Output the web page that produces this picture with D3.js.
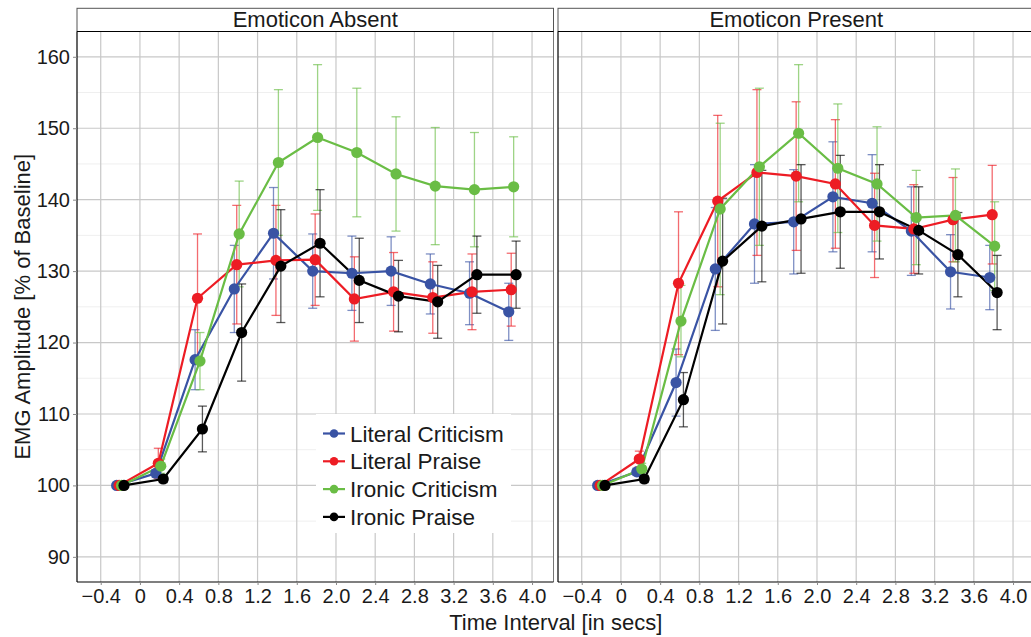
<!DOCTYPE html>
<html>
<head>
<meta charset="utf-8">
<script src="https://cdn.jsdelivr.net/npm/d3@7"></script>
<style>
  body { margin: 0; background: #fff; }
  text { font-family: "Liberation Sans", Arial, sans-serif; fill: #1a1a1a; }
</style>
</head>
<body>
<svg id="chart" width="1031" height="637"></svg>
<script>
// time points (seconds)
const times = [-0.2, 0.2, 0.6, 1.0, 1.4, 1.8, 2.2, 2.6, 3.0, 3.4, 3.8]
const panels = ["Emoticon Absent", "Emoticon Present"]
const seriesNames = ["Literal Criticism", "Literal Praise", "Ironic Criticism", "Ironic Praise"]
const seriesColors = ["#3953a4", "#ed1c24", "#6abd45", "#000000"]

// Emoticon Absent: means and error half-widths
const absentLC = [100, 101.7, 117.6, 127.5, 135.3, 130.0, 129.7, 130.0, 128.2, 126.9, 124.3]
const absentLCerr = [0, 0.5, 4.2, 6.1, 6.4, 5.2, 5.2, 4.8, 4.2, 4.4, 4.0]
const absentLP = [100, 103.1, 126.2, 130.9, 131.5, 131.6, 126.1, 127.1, 126.3, 127.1, 127.4]
const absentLPerr = [0, 2.1, 9.0, 8.3, 7.7, 6.4, 5.9, 5.5, 5.0, 5.3, 5.1]
const absentIC = [100, 102.7, 117.4, 135.2, 145.2, 148.7, 146.6, 143.6, 141.9, 141.4, 141.8]
const absentICerr = [0, 1.0, 4.0, 7.4, 10.2, 10.2, 9.0, 8.0, 8.2, 8.0, 7.0]
const absentIP = [100, 100.9, 107.9, 121.4, 130.7, 133.9, 128.7, 126.5, 125.7, 129.5, 129.5]
const absentIPerr = [0, 0.5, 3.2, 6.8, 7.9, 7.5, 5.9, 5.0, 5.1, 5.4, 4.7]

// Emoticon Present
const presentLC = [100, 101.9, 114.4, 130.3, 136.6, 136.9, 140.4, 139.5, 135.6, 129.9, 129.1]
const presentLCerr = [0, 0.5, 4.7, 8.6, 8.3, 7.3, 7.7, 6.8, 6.2, 5.2, 4.5]
const presentLP = [100, 103.7, 128.3, 139.8, 143.8, 143.3, 142.2, 136.4, 135.9, 137.2, 137.9]
const presentLPerr = [0, 1.1, 10.0, 12.0, 11.6, 10.4, 9.0, 7.3, 6.2, 5.9, 6.9]
const presentIC = [100, 102.3, 123.0, 138.7, 144.6, 149.3, 144.4, 142.2, 137.5, 137.8, 133.5]
const presentICerr = [0, 0.8, 5.0, 12.0, 11.0, 9.6, 9.0, 8.0, 6.6, 6.5, 6.2]
const presentIP = [100, 100.9, 112.0, 131.4, 136.3, 137.3, 138.3, 138.3, 135.7, 132.3, 127.0]
const presentIPerr = [0, 0.5, 3.8, 8.8, 7.8, 7.6, 7.9, 6.6, 6.1, 5.9, 5.2]

const xTicks = [-0.4, 0, 0.4, 0.8, 1.2, 1.6, 2.0, 2.4, 2.8, 3.2, 3.6, 4.0]
const xTickLabels = ["\u22120.4", "0", "0.4", "0.8", "1.2", "1.6", "2.0", "2.4", "2.8", "3.2", "3.6", "4.0"]
const yTicks = [90, 100, 110, 120, 130, 140, 150, 160]
const yMinor = [95, 105, 115, 125, 135, 145, 155]

const panelData = [
  { means: [absentLC, absentLP, absentIC, absentIP], errs: [absentLCerr, absentLPerr, absentICerr, absentIPerr] },
  { means: [presentLC, presentLP, presentIC, presentIP], errs: [presentLCerr, presentLPerr, presentICerr, presentIPerr] }
]

// layout
const G = { TOP: 31.5, BOTTOM: 582, PW: 476.5, X0: [77, 558], STRIP_TOP: 8.3 }
const dodge = [-0.0375, -0.0125, 0.0125, 0.0375]
const CAP = 4.5

const svg = d3.select("#chart")
svg.append("rect").attr("width", 1031).attr("height", 637).attr("fill", "#fff")

const x = d3.scaleLinear().domain([-0.642, 4.219]).range([0, G.PW])
const y = d3.scaleLinear().domain([86.48, 163.54]).range([G.BOTTOM, G.TOP])

panels.forEach((title, pi) => {
  const g = svg.append("g").attr("transform", `translate(${G.X0[pi]},0)`)

  // grid
  g.selectAll(".ymin").data(yMinor).join("line")
    .attr("x1", 0).attr("x2", G.PW).attr("y1", d => y(d)).attr("y2", d => y(d))
    .attr("stroke", "#efefef").attr("stroke-width", 1)
  g.selectAll(".ymaj").data(yTicks).join("line")
    .attr("x1", 0).attr("x2", G.PW).attr("y1", d => y(d)).attr("y2", d => y(d))
    .attr("stroke", "#c8c8c8").attr("stroke-width", 1.2)
  g.selectAll(".xmaj").data(xTicks).join("line")
    .attr("x1", d => x(d)).attr("x2", d => x(d)).attr("y1", G.TOP).attr("y2", G.BOTTOM)
    .attr("stroke", "#c8c8c8").attr("stroke-width", 1.2)

  // legend (left panel only, sits over the grid)
  if (pi === 0) {
    const lg = g.append("g").attr("transform", `translate(${316 - G.X0[0]},414)`)
    lg.append("rect").attr("width", 195).attr("height", 119).attr("fill", "#fff")
    seriesNames.forEach((name, si) => {
      const cy = 19.5 + si * 27.8
      lg.append("line").attr("x1", 7).attr("x2", 29).attr("y1", cy).attr("y2", cy)
        .attr("stroke", seriesColors[si]).attr("stroke-width", 2.2)
      lg.append("circle").attr("cx", 18).attr("cy", cy).attr("r", 4.3).attr("fill", seriesColors[si])
      lg.append("text").attr("x", 34).attr("y", cy + 8).attr("font-size", 22.5).text(name)
    })
  }

  const pd = panelData[pi]

  // error bars
  pd.means.forEach((m, si) => {
    const eb = g.append("g").attr("stroke", seriesColors[si]).attr("stroke-opacity", 0.65).attr("stroke-width", 1.3)
    const pts = times.map((t, i) => ({ t: t + dodge[si], m: m[i], e: pd.errs[si][i] })).filter(d => d.e > 0)
    eb.selectAll(".v").data(pts).join("line")
      .attr("x1", d => x(d.t)).attr("x2", d => x(d.t)).attr("y1", d => y(d.m - d.e)).attr("y2", d => y(d.m + d.e))
    eb.selectAll(".top").data(pts).join("line")
      .attr("x1", d => x(d.t) - CAP).attr("x2", d => x(d.t) + CAP).attr("y1", d => y(d.m + d.e)).attr("y2", d => y(d.m + d.e))
    eb.selectAll(".bot").data(pts).join("line")
      .attr("x1", d => x(d.t) - CAP).attr("x2", d => x(d.t) + CAP).attr("y1", d => y(d.m - d.e)).attr("y2", d => y(d.m - d.e))
  })

  // lines and points
  const line = d3.line().x(d => x(d[0])).y(d => y(d[1]))
  pd.means.forEach((m, si) => {
    const pts = times.map((t, i) => [t + dodge[si], m[i]])
    g.append("path").datum(pts).attr("d", line).attr("fill", "none")
      .attr("stroke", seriesColors[si]).attr("stroke-width", 2.2)
  })
  pd.means.forEach((m, si) => {
    const pts = times.map((t, i) => [t + dodge[si], m[i]])
    g.selectAll(null).data(pts).join("circle")
      .attr("cx", d => x(d[0])).attr("cy", d => y(d[1])).attr("r", 5.6).attr("fill", seriesColors[si])
  })

  // panel border
  g.append("line").attr("x1", G.PW).attr("x2", G.PW).attr("y1", G.TOP).attr("y2", G.BOTTOM).attr("stroke", "#777").attr("stroke-width", 1)
  g.append("line").attr("x1", 0).attr("x2", 0).attr("y1", G.TOP).attr("y2", G.BOTTOM).attr("stroke", "#000").attr("stroke-width", 1.2)
  g.append("line").attr("x1", 0).attr("x2", G.PW).attr("y1", G.BOTTOM).attr("y2", G.BOTTOM).attr("stroke", "#000").attr("stroke-width", 1.2)

  // strip
  g.append("rect").attr("x", 0).attr("y", G.STRIP_TOP).attr("width", G.PW).attr("height", G.TOP - G.STRIP_TOP)
    .attr("fill", "#fff").attr("stroke", "#555").attr("stroke-width", 1)
  g.append("line").attr("x1", 0).attr("x2", G.PW).attr("y1", G.TOP).attr("y2", G.TOP).attr("stroke", "#000").attr("stroke-width", 1.2)
  g.append("text").attr("x", G.PW / 2).attr("y", 27.3).attr("text-anchor", "middle").attr("font-size", 22).text(title)

  // x axis
  const xa = g.append("g").attr("transform", `translate(0,${G.BOTTOM})`)
    .call(d3.axisBottom(x).tickValues(xTicks).tickSize(3).tickPadding(4).tickFormat((d, i) => xTickLabels[i]))
  xa.select(".domain").remove()
  xa.selectAll(".tick line").attr("stroke", "#888")
  xa.selectAll(".tick text").attr("font-size", 20).attr("fill", "#1a1a1a")
    .attr("font-family", "Liberation Sans, Arial, sans-serif")

  // y axis on left panel only
  if (pi === 0) {
    const ya = g.append("g").call(d3.axisLeft(y).tickValues(yTicks).tickSize(4).tickPadding(3))
    ya.select(".domain").remove()
    ya.selectAll(".tick line").attr("stroke", "#888")
    ya.selectAll(".tick text").attr("font-size", 20).attr("fill", "#1a1a1a")
      .attr("font-family", "Liberation Sans, Arial, sans-serif")
  }
})

// axis titles
svg.append("text").attr("x", (G.X0[0] + G.X0[1] + G.PW) / 2).attr("y", 629.5)
  .attr("text-anchor", "middle").attr("font-size", 22).text("Time Interval [in secs]")
svg.append("text").attr("transform", `translate(30,${(G.TOP + G.BOTTOM) / 2}) rotate(-90)`)
  .attr("text-anchor", "middle").attr("font-size", 22).text("EMG Amplitude [% of Baseline]")
</script>
</body>
</html>
